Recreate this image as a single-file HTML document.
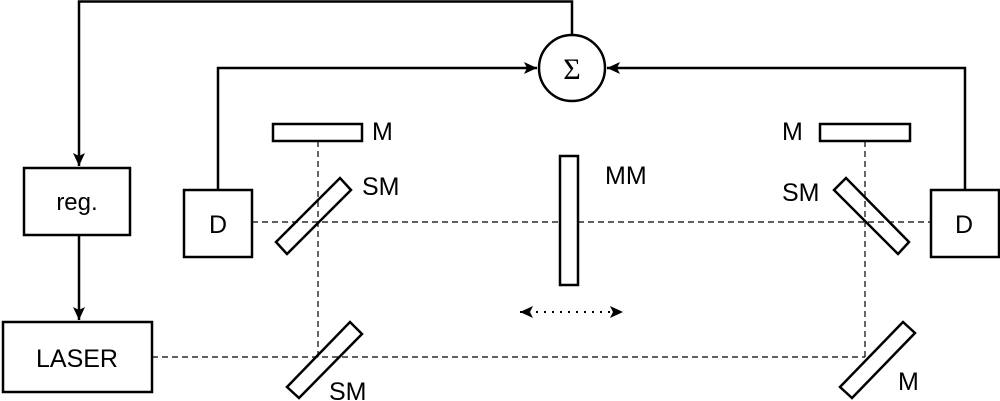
<!DOCTYPE html>
<html><head><style>html,body{margin:0;padding:0;background:#fff}svg{display:block}</style></head>
<body>
<svg width="1000" height="401" viewBox="0 0 1000 401" xmlns="http://www.w3.org/2000/svg" font-family="Liberation Sans, sans-serif">
<defs><marker id="a" markerWidth="10" markerHeight="10" refX="9" refY="5" orient="auto" markerUnits="userSpaceOnUse"><path d="M0,0 L10,5 L0,10 L3,5 Z" fill="#000"/></marker>
<marker id="a2" markerWidth="14" markerHeight="12" refX="13" refY="6" orient="auto-start-reverse" markerUnits="userSpaceOnUse"><path d="M0,0 L13,6 L0,12 L3,6 Z" fill="#000"/></marker></defs>
<g fill="none" stroke="#000" stroke-width="2.5">
<polyline points="572,35 572,1.5 79,1.5 79,166" marker-end="url(#a2)"/>
<line x1="79" y1="235" x2="79" y2="320" marker-end="url(#a2)"/>
<polyline points="218,190 218,68 537,68" marker-end="url(#a2)"/>
<polyline points="965,190 965,68 607,68" marker-end="url(#a2)"/>
<circle cx="572" cy="68" r="33"/>
<rect x="24" y="168" width="106" height="67"/>
<rect x="3" y="322" width="149" height="70"/>
<rect x="184" y="190" width="68" height="67"/>
<rect x="931" y="190" width="68" height="67"/>
<rect x="273" y="124" width="89" height="17"/>
<rect x="820" y="124" width="90" height="17"/>
<rect x="560" y="156" width="18" height="129"/>
<polygon points="276,242 287,254 351,190 340,178"/>
<polygon points="287,387 299,398 362,334 350,322"/>
<polygon points="834,190 846,178 909,242 898,254"/>
<polygon points="840,387 852,398 915,333 903,322"/>
</g>
<g fill="none" stroke="#000" stroke-width="1.2" stroke-dasharray="6,4">
<line x1="318" y1="141" x2="318" y2="357"/>
<line x1="252" y1="222" x2="560" y2="222"/>
<line x1="578" y1="222" x2="931" y2="222"/>
<line x1="152" y1="357" x2="865" y2="357"/>
<line x1="865" y1="141" x2="865" y2="357"/>
</g>
<line x1="520" y1="312" x2="623" y2="312" stroke="#000" stroke-width="2" stroke-dasharray="2,6" marker-start="url(#a2)" marker-end="url(#a2)"/>
<g font-size="25" fill="#000">
<text x="77" y="210" text-anchor="middle" font-size="24">reg.</text>
<text x="77" y="367" text-anchor="middle">LASER</text>
<text x="218" y="233" text-anchor="middle">D</text>
<text x="964" y="233" text-anchor="middle">D</text>
<text x="372" y="140">M</text>
<text x="782" y="140">M</text>
<text x="362" y="195">SM</text>
<text x="782" y="201">SM</text>
<text x="329" y="400">SM</text>
<text x="898" y="390">M</text>
<text x="605" y="184">MM</text>
<text x="572" y="79" text-anchor="middle" font-family="Liberation Serif, serif" font-size="30">Σ</text>
</g>
</svg>
</body></html>
